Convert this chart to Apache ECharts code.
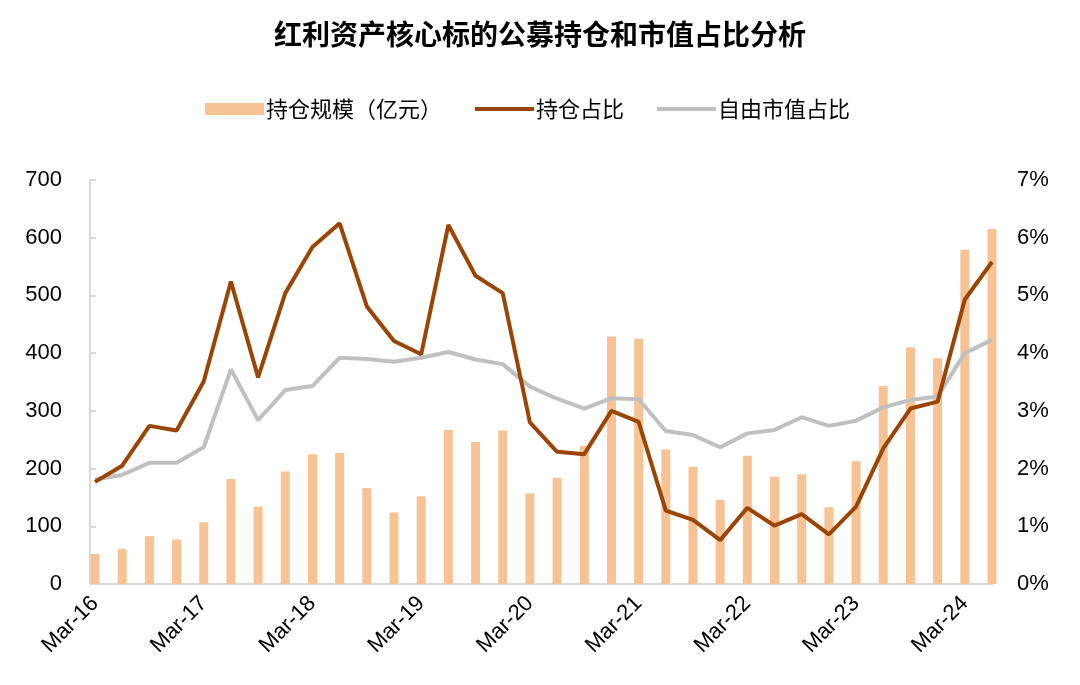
<!DOCTYPE html>
<html>
<head>
<meta charset="utf-8">
<script src="https://cdn.jsdelivr.net/npm/echarts@6/dist/echarts.min.js"></script>
<style>
html,body{margin:0;padding:0;background:#fff;}
#main{width:1080px;height:685px;}
</style>
</head>
<body>
<div id="main"></div>
<script>
const categories = [
  'Mar-16','Jun-16','Sep-16','Dec-16',
  'Mar-17','Jun-17','Sep-17','Dec-17',
  'Mar-18','Jun-18','Sep-18','Dec-18',
  'Mar-19','Jun-19','Sep-19','Dec-19',
  'Mar-20','Jun-20','Sep-20','Dec-20',
  'Mar-21','Jun-21','Sep-21','Dec-21',
  'Mar-22','Jun-22','Sep-22','Dec-22',
  'Mar-23','Jun-23','Sep-23','Dec-23',
  'Mar-24','Jun-24'
];
const holdingScale = [52,61,83,77,107,182,134,195,225,227,166,124,152,267,246,266,157,184,239,429,425,233,203,146,222,186,190,133,213,343,410,391,579,615];
const holdingRatio = [1.77,2.05,2.74,2.66,3.51,5.24,3.58,5.04,5.84,6.25,4.81,4.21,3.98,6.22,5.34,5.04,2.80,2.29,2.25,3.00,2.81,1.27,1.11,0.76,1.32,1.01,1.21,0.86,1.34,2.35,3.04,3.16,4.93,5.58];
const floatCapRatio = [1.81,1.89,2.10,2.10,2.37,3.72,2.84,3.36,3.43,3.92,3.90,3.85,3.92,4.02,3.89,3.81,3.42,3.21,3.04,3.22,3.20,2.65,2.58,2.37,2.61,2.67,2.89,2.74,2.83,3.06,3.19,3.25,4.00,4.23];
const leftTicks = {min:0, max:700, interval:100};
const rightTicks = {min:0, max:7, interval:1};

const FONT = '"Liberation Sans", Arial, "Noto Sans CJK SC", sans-serif';
const CJK = '"Noto Sans CJK SC", "Liberation Sans", sans-serif';
const LINE_ICON = 'path://M0,0 L60,0 L60,4 L0,4 Z';
const chart = echarts.init(document.getElementById('main'), null, {renderer:'canvas'});
chart.setOption({
  animation:false,
  backgroundColor:'#ffffff',
  title:{
    text:'红利资产核心标的公募持仓和市值占比分析',
    left:'center', top:15,
    textStyle:{fontFamily:CJK, fontSize:28, fontWeight:'bold', color:'#000'}
  },
  legend:{
    left:200, top:93,
    itemGap:33, itemWidth:59, itemHeight:12,
    textStyle:{fontFamily:CJK, fontSize:22, color:'#000', padding:[0,0,0,-3]},
    data:[
      {name:'持仓规模（亿元）', icon:'rect'},
      {name:'持仓占比', icon:LINE_ICON},
      {name:'自由市值占比', icon:LINE_ICON}
    ]
  },
  grid:{left:95, right:88, top:180, bottom:101, containLabel:false},
  xAxis:{
    type:'category',
    data:categories,
    boundaryGap:false,
    axisLine:{show:true, lineStyle:{color:'#d9d9d9', width:2}},
    axisTick:{show:true, inside:true, length:5, interval:3, lineStyle:{color:'#d9d9d9', width:2}},
    axisLabel:{interval:3, rotate:45, margin:16, fontFamily:FONT, fontSize:22, color:'#000'},
    splitLine:{show:false}
  },
  yAxis:[
    {
      type:'value', position:'left', offset:5,
      min:leftTicks.min, max:leftTicks.max, interval:leftTicks.interval,
      axisLine:{show:true, lineStyle:{color:'#d9d9d9', width:2}},
      axisTick:{show:true, inside:true, length:6, lineStyle:{color:'#d9d9d9', width:2}},
      axisLabel:{margin:28, fontFamily:FONT, fontSize:22, color:'#000'},
      splitLine:{show:false}
    },
    {
      type:'value', position:'right',
      min:rightTicks.min, max:rightTicks.max, interval:rightTicks.interval,
      axisLine:{show:false}, axisTick:{show:false},
      axisLabel:{margin:25, formatter:'{value}%', fontFamily:FONT, fontSize:22, color:'#000'},
      splitLine:{show:false}
    }
  ],
  series:[
    {
      name:'持仓规模（亿元）', type:'bar', yAxisIndex:0,
      data:holdingScale, barWidth:9,
      itemStyle:{color:'#F8C394'}
    },
    {
      name:'持仓占比', type:'line', yAxisIndex:1,
      data:holdingRatio, symbol:'none', z:4,
      lineStyle:{color:'#9A4505', width:4},
      itemStyle:{color:'#9A4505'}
    },
    {
      name:'自由市值占比', type:'line', yAxisIndex:1,
      data:floatCapRatio, symbol:'none', z:3,
      lineStyle:{color:'#C0C0C0', width:4},
      itemStyle:{color:'#C0C0C0'}
    }
  ]
});
</script>
</body>
</html>
